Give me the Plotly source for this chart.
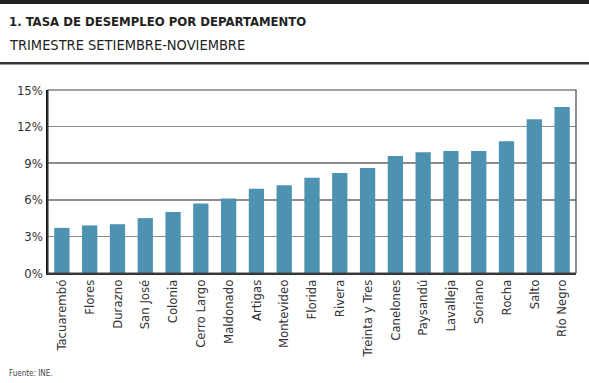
import plotly.graph_objects as go

departamentos = ["Tacuarembó", "Flores", "Durazno", "San José", "Colonia", "Cerro Largo",
                 "Maldonado", "Artigas", "Montevideo", "Florida", "Rivera", "Treinta y Tres",
                 "Canelones", "Paysandú", "Lavalleja", "Soriano", "Rocha", "Salto", "Río Negro"]
tasa = [3.7, 3.9, 4.0, 4.5, 5.0, 5.7, 6.1, 6.9, 7.2, 7.8, 8.2, 8.6, 9.6, 9.9, 10.0, 10.0, 10.8, 12.6, 13.6]
y_ticks = [0, 3, 6, 9, 12, 15]
y_tick_labels = ["0%", "3%", "6%", "9%", "12%", "15%"]

W, H = 589, 383
L, R, T, B = 48, 13, 90, 110
pw, ph = W - L - R, H - T - B

def px_x(x):
    return (x - L) / pw

def px_y(y):
    return (H - B - y) / ph

FONT = "DejaVu Sans Condensed, sans-serif"

fig = go.Figure(go.Bar(x=departamentos, y=tasa, marker=dict(color="#4D93B1", line=dict(width=0)),
                       hoverinfo="skip"))

fig.update_layout(
    width=W, height=H,
    margin=dict(l=L, r=R, t=T, b=B),
    paper_bgcolor="white", plot_bgcolor="white",
    bargap=0.45,
    showlegend=False,
    font=dict(family=FONT, size=13, color="#333"),
    xaxis=dict(showgrid=False, tickangle=-90, ticks="", tickfont=dict(family=FONT, size=13, color="#333"),
               showline=True, linecolor="#333", linewidth=1.5),
    yaxis=dict(range=[0, 15], tickvals=y_ticks, ticktext=y_tick_labels, showgrid=True,
               gridcolor="#8c8c8c", gridwidth=1.5, zeroline=False,
               showline=True, linecolor="#111", linewidth=2.5, ticks="",
               tickfont=dict(family=FONT, size=13, color="#333")),
    shapes=[
        dict(type="rect", xref="paper", yref="paper", x0=px_x(0), x1=px_x(W), y0=px_y(4), y1=px_y(0),
             fillcolor="#222", line=dict(width=0), layer="above"),
        dict(type="rect", xref="paper", yref="paper", x0=px_x(0), x1=px_x(W), y0=px_y(64.5), y1=px_y(62),
             fillcolor="#333", line=dict(width=0), layer="above"),
        dict(type="rect", xref="paper", yref="paper", x0=0, x1=1, y0=0, y1=1,
             line=dict(color="#444", width=1.2), fillcolor="rgba(0,0,0,0)", layer="above"),
    ],
    annotations=[
        dict(text="<b>1. TASA DE DESEMPLEO POR DEPARTAMENTO</b>", xref="paper", yref="paper",
             x=px_x(7), y=px_y(21), xanchor="left", yanchor="middle", showarrow=False,
             font=dict(family=FONT, size=13, color="#222")),
        dict(text="TRIMESTRE SETIEMBRE-NOVIEMBRE", xref="paper", yref="paper",
             x=px_x(7), y=px_y(45), xanchor="left", yanchor="middle", showarrow=False,
             font=dict(family=FONT, size=14.5, color="#222")),
        dict(text="Fuente: INE.", xref="paper", yref="paper",
             x=px_x(7), y=px_y(373), xanchor="left", yanchor="middle", showarrow=False,
             font=dict(family=FONT, size=8, color="#444")),
    ],
)

fig.write_html("out.html", config={"displayModeBar": False, "staticPlot": True},
               post_script="document.body.style.margin='0';document.body.style.overflow='hidden';")
